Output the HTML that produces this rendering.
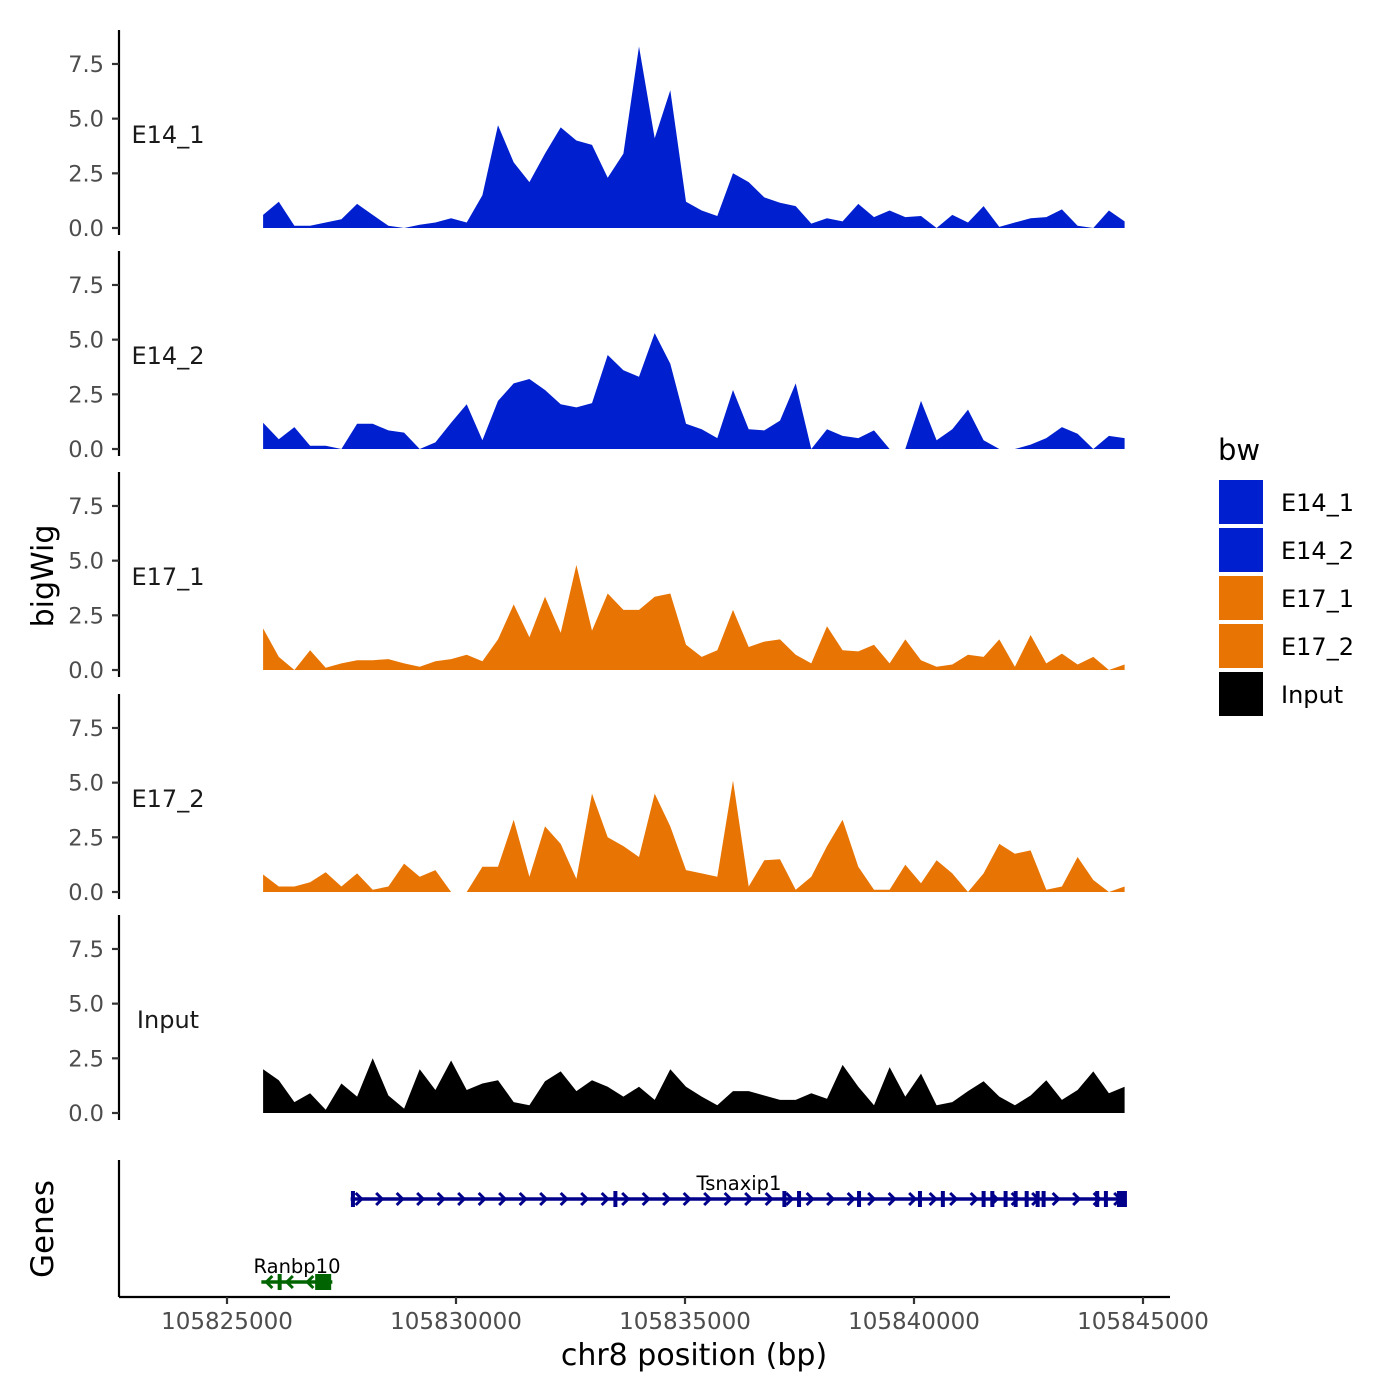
<!DOCTYPE html>
<html><head><meta charset="utf-8"><style>
body{margin:0;background:#fff}
svg{display:block;font-family:"DejaVu Sans","Liberation Sans",sans-serif}
</style></head><body>
<svg id="chart" width="1400" height="1400" viewBox="0 0 1400 1400" xmlns="http://www.w3.org/2000/svg"></svg>
<script>
const seriesNames = ["E14_1","E14_2","E17_1","E17_2","Input"];
const seriesColors = ["#0020CF","#0020CF","#E87503","#E87503","#000000"];
const posStart = 105825788;
const posStep = 342;
const e14_1 = [0.6,1.2,0.1,0.1,0.25,0.4,1.1,0.6,0.1,0,0.15,0.25,0.45,0.25,1.5,4.7,3.0,2.1,3.4,4.6,4.0,3.8,2.3,3.4,8.3,4.1,6.3,1.2,0.8,0.55,2.5,2.1,1.4,1.15,1.0,0.2,0.45,0.3,1.1,0.5,0.8,0.5,0.55,0,0.6,0.25,1.0,0.05,0.25,0.45,0.5,0.85,0.1,0,0.8,0.3];
const e14_2 = [1.2,0.45,1.0,0.15,0.15,0,1.15,1.15,0.85,0.75,0,0.3,1.2,2.05,0.4,2.2,3.0,3.2,2.7,2.05,1.9,2.1,4.3,3.6,3.3,5.3,3.9,1.15,0.9,0.5,2.7,0.9,0.85,1.3,3.0,0,0.9,0.6,0.5,0.85,0,0,2.2,0.4,0.9,1.8,0.4,0,0,0.2,0.5,1.0,0.7,0,0.6,0.5];
const e17_1 = [1.9,0.6,0,0.9,0.1,0.3,0.45,0.45,0.5,0.3,0.15,0.4,0.5,0.7,0.4,1.4,3.0,1.5,3.35,1.7,4.8,1.8,3.5,2.75,2.75,3.35,3.5,1.15,0.6,0.9,2.75,1.05,1.3,1.4,0.7,0.3,2.0,0.9,0.85,1.15,0.3,1.4,0.45,0.15,0.25,0.7,0.6,1.4,0.15,1.6,0.3,0.75,0.25,0.6,0,0.25];
const e17_2 = [0.8,0.25,0.25,0.45,0.9,0.25,0.85,0.1,0.25,1.3,0.7,1.0,0,0,1.15,1.15,3.3,0.7,3.0,2.2,0.6,4.5,2.5,2.1,1.6,4.5,3.0,1.0,0.85,0.7,5.1,0.25,1.45,1.5,0.1,0.7,2.1,3.3,1.15,0.1,0.1,1.25,0.4,1.45,0.85,0,0.85,2.2,1.75,1.9,0.1,0.25,1.6,0.55,0,0.25];
const input = [2.0,1.5,0.5,0.9,0.15,1.35,0.75,2.5,0.8,0.2,2.0,1.05,2.4,1.05,1.35,1.5,0.5,0.35,1.45,1.9,1.0,1.5,1.2,0.75,1.2,0.6,2.0,1.2,0.75,0.35,1.0,1.0,0.8,0.6,0.6,0.9,0.65,2.2,1.2,0.35,2.1,0.75,1.8,0.35,0.5,1.0,1.45,0.75,0.35,0.8,1.5,0.6,1.05,1.9,0.9,1.2];
const seriesValues = [e14_1,e14_2,e17_1,e17_2,input];
const yTicks = [0,2.5,5,7.5];
const yTickLabels = ["0.0","2.5","5.0","7.5"];
const xTicks = [105825000,105830000,105835000,105840000,105845000];
const tsnaxipStart = 105827700, tsnaxipEnd = 105844600;
const tsnaxipExons = [105827750,105833480,105837170,105837490,105838800,105840130,105840630,105841520,105841710,105842000,105842220,105842460,105842700,105842830,105844000,105844190,105844540];
const ranbpStart = 105825750, ranbpEnd = 105827300;
const ranbpExons = [105826150,105827100];

const NS="http://www.w3.org/2000/svg";
const svg=document.getElementById('chart');
function el(t,a,p){const e=document.createElementNS(NS,t);for(const k in a)e.setAttribute(k,a[k]);(p||svg).appendChild(e);return e;}
const xScale=v=>227+(v-105825000)/20000*916;
const panelBase=[228,449,670,892,1113];
const yUnit=21.87;
const axisCol="#000",tickCol="#333",labCol="#4d4d4d";

seriesValues.forEach((vals,si)=>{
  const base=panelBase[si];
  const y=v=>base-v*yUnit;
  const g=el('g',{});
  
  
  let d='M'+xScale(posStart).toFixed(1)+','+base;
  vals.forEach((v,i)=>{d+=' L'+xScale(posStart+i*posStep).toFixed(1)+','+y(v).toFixed(1);});
  d+=' L'+xScale(posStart+(vals.length-1)*posStep).toFixed(1)+','+base+' Z';
  const a=el('path',{d:d,fill:seriesColors[si]},g);
  
  
  const ax=el('line',{x1:119,x2:119,y1:base-198,y2:base+7,stroke:axisCol,'stroke-width':2.2},g);
  
  
  yTicks.forEach((t,ti)=>{
    el('line',{x1:112,x2:119,y1:y(t),y2:y(t),stroke:tickCol,'stroke-width':2.2},g);
    const tl=el('text',{x:104,y:y(t)+8,'text-anchor':'end','font-size':22.5,fill:labCol},g);
    tl.textContent=yTickLabels[ti];
    
    
  });
  const lab=el('text',{x:168,y:base-85,'text-anchor':'middle','font-size':24,fill:'#1a1a1a'},g);
  lab.textContent=seriesNames[si];
  
  
});

const gAx=el('line',{x1:119,x2:119,y1:1160,y2:1297,stroke:axisCol,'stroke-width':2.2});


const xAx=el('line',{x1:119,x2:1170,y1:1297,y2:1297,stroke:axisCol,'stroke-width':2.2});


xTicks.forEach(t=>{
  el('line',{x1:xScale(t),x2:xScale(t),y1:1297,y2:1304,stroke:tickCol,'stroke-width':2.2});
  const tl=el('text',{x:xScale(t),y:1329,'text-anchor':'middle','font-size':23,fill:labCol});
  tl.textContent=String(t);
  
  
});

function gene(name,start,end,exons,yc,col,dir,labelX){
  const g=el('g',{});
  
  
  el('line',{x1:xScale(start),x2:xScale(end),y1:yc,y2:yc,stroke:col,'stroke-width':3.5},g);
  for(let x=xScale(start)+8;x<xScale(end)-4;x+=20.5){
    const p=dir>0?`M${x-3},${yc-6} L${x+3},${yc} L${x-3},${yc+6}`:`M${x+3},${yc-6} L${x-3},${yc} L${x+3},${yc+6}`;
    el('path',{d:p,stroke:col,'stroke-width':3,fill:'none'},g);
  }
  exons.forEach((e,i)=>{
    const big=(i===exons.length-1);
    const w=big?(name==='Ranbp10'?16:10):4;
    el('rect',{x:xScale(e)-w/2,y:yc-8,width:w,height:16,fill:col},g);
  });
  const t=el('text',{x:labelX,y:yc-9,'text-anchor':'middle','font-size':19.5,fill:'#000'},g);
  t.textContent=name;
}
gene('Tsnaxip1',tsnaxipStart,tsnaxipEnd,tsnaxipExons,1199,'#00008B',1,739);
gene('Ranbp10',ranbpStart,ranbpEnd,ranbpExons,1282,'#006400',-1,297);

const t1=el('text',{x:694,y:1365,'text-anchor':'middle','font-size':30,fill:'#000'});
t1.textContent='chr8 position (bp)';

const t2=el('text',{x:0,y:0,'text-anchor':'middle','font-size':30,fill:'#000',transform:'translate(53,576) rotate(-90)'});
t2.textContent='bigWig';

const t3=el('text',{x:0,y:0,'text-anchor':'middle','font-size':31,fill:'#000',transform:'translate(53,1229) rotate(-90)'});
t3.textContent='Genes';


const lg=el('g',{});

const lt=el('text',{x:1218,y:460,'font-size':29,fill:'#000'},lg);lt.textContent='bw';
seriesNames.forEach((n,i)=>{
  const r=el('rect',{x:1219,y:480+i*48,width:44,height:44,fill:seriesColors[i]},lg);
  
  const t=el('text',{x:1281,y:511+i*48,'font-size':24,fill:'#000'},lg);
  t.textContent=n;
  
});
</script>
</body></html>
